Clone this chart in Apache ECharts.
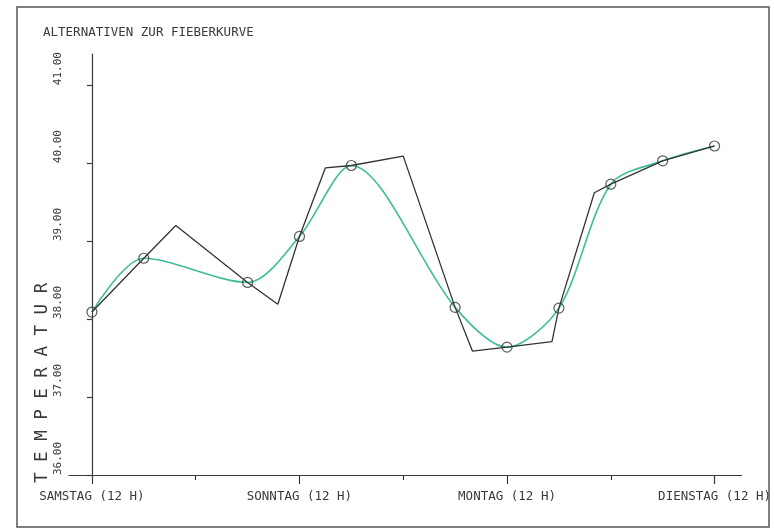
<!DOCTYPE html>
<html>
<head>
<meta charset="utf-8">
<script src="https://cdn.jsdelivr.net/npm/echarts@6/dist/echarts.min.js"></script>
<style>html,body{margin:0;padding:0;background:#fff;}#c{width:774px;height:530px;}</style>
</head>
<body>
<div id="c"></div>
<script>
// Measured (black polyline) vertices: hours after Samstag 12 H, temperature
const measureHours = [0, 6, 9.7, 18, 21.5, 24, 27, 30, 36, 42, 44, 48, 53.2, 54, 58.1, 60, 66, 72];
const measureTemps = [38.09, 38.78, 39.2, 38.47, 38.19, 39.06, 39.94, 39.97, 40.09, 38.15, 37.59, 37.64, 37.71, 38.14, 39.62, 39.73, 40.03, 40.22];
// Sampled points (circles) and the smooth (green) curve through them
const sampleHours = [0, 6, 18, 24, 30, 42, 48, 54, 60, 66, 72];
const sampleTemps = [38.09, 38.78, 38.47, 39.06, 39.97, 38.15, 37.64, 38.14, 39.73, 40.03, 40.22];
// Axis ticks and labels
const dayHours = [0, 24, 48, 72];
const dayLabels = ['SAMSTAG (12 H)', 'SONNTAG (12 H)', 'MONTAG (12 H)', 'DIENSTAG (12 H)'];
const halfDayHours = [12, 36, 60];
const tempTicks = [36, 37, 38, 39, 40, 41];
const titleText = 'ALTERNATIVEN ZUR FIEBERKURVE';
const yName = 'T E M P E R A T U R';

const mono = 'DejaVu Sans Mono';
const ink = '#3a3a3a';
const pair = (xs, ys) => xs.map((x, i) => [x, ys[i]]);

const chart = echarts.init(document.getElementById('c'), null, {renderer: 'canvas'});
chart.setOption({
  animation: false,
  backgroundColor: '#ffffff',
  title: {
    text: titleText, left: 38, top: 21,
    textStyle: {fontFamily: mono, fontSize: 12.5, fontWeight: 'normal', color: ink}
  },
  graphic: [
    {type: 'rect', shape: {x: 17, y: 7, width: 752, height: 520},
     style: {fill: 'none', stroke: '#555', lineWidth: 1.5}, silent: true},
    {type: 'text', x: 42, y: 483, rotation: Math.PI / 2,
     style: {text: yName, font: '17.5px "DejaVu Sans Mono"', fill: ink, textAlign: 'left', textVerticalAlign: 'middle'}}
  ],
  grid: {left: 69, right: 29, top: 54, bottom: 55, containLabel: false},
  xAxis: [
    {
      type: 'value', min: -2.65, max: 75.12, position: 'bottom',
      splitLine: {show: false},
      axisLine: {show: true, lineStyle: {color: ink, width: 1.2}},
      axisTick: {show: true, inside: false, length: 9, customValues: dayHours, lineStyle: {color: ink, width: 1.2}},
      axisLabel: {
        show: true, customValues: dayHours, margin: 15,
        fontFamily: mono, fontSize: 12.5, color: ink,
        formatter: v => { const i = dayHours.indexOf(Math.round(v)); return i >= 0 ? dayLabels[i] : ''; }
      }
    },
    {
      type: 'value', min: -2.65, max: 75.12, position: 'bottom', offset: 0,
      splitLine: {show: false},
      axisLine: {show: false},
      axisTick: {show: true, inside: false, length: 5, customValues: halfDayHours, lineStyle: {color: ink, width: 1.2}},
      axisLabel: {show: false}
    }
  ],
  yAxis: {
    type: 'value', min: 36, max: 41.4,
    splitLine: {show: false},
    axisLine: {show: true, lineStyle: {color: ink, width: 1.2}},
    axisTick: {show: true, inside: false, length: 5, customValues: tempTicks, lineStyle: {color: ink, width: 1.2}},
    axisLabel: {
      show: true, customValues: tempTicks, rotate: 90, align: 'left', verticalAlign: 'bottom', margin: 5,
      fontFamily: mono, fontSize: 11, color: ink,
      formatter: v => v.toFixed(2)
    }
  },
  series: [
    {
      type: 'line', name: 'messung', data: pair(measureHours, measureTemps),
      showSymbol: false, symbol: 'none', smooth: false,
      lineStyle: {color: '#333333', width: 1.3}, z: 3
    },
    {
      type: 'line', name: 'glatt', data: pair(sampleHours, sampleTemps),
      showSymbol: false, symbol: 'none', smooth: 0.3,
      lineStyle: {color: '#3dbd9c', width: 1.6}, z: 2
    },
    {
      type: 'scatter', name: 'punkte', data: pair(sampleHours, sampleTemps),
      symbol: 'circle', symbolSize: 10,
      itemStyle: {color: 'rgba(0,0,0,0)', borderColor: '#333', borderWidth: 1.2}, z: 4
    }
  ]
});
</script>
</body>
</html>
